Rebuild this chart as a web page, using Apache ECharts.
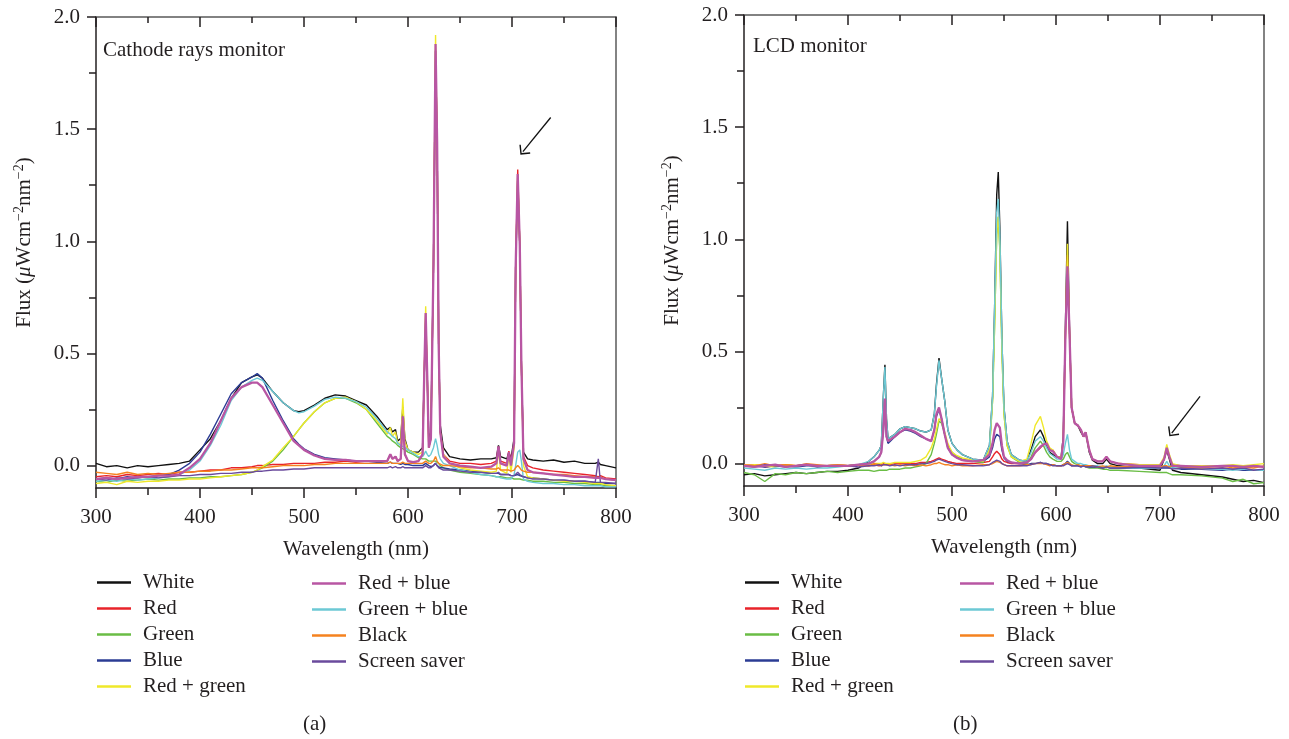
<!DOCTYPE html>
<html><head><meta charset="utf-8">
<script src="https://cdn.jsdelivr.net/npm/echarts@6/dist/echarts.min.js"></script>
<style>html,body{margin:0;padding:0;background:#fff}#c{width:1289px;height:739px}</style>
</head><body><div id="c"></div>
<script>
const seriesNames = ['White','Red','Green','Blue','Red + green','Red + blue','Green + blue','Black','Screen saver'];
const seriesColors = ['#111111','#e8232a','#6abd45','#2b3c94','#efe82a','#b856a3','#6cc9d5','#f5821f','#6a4a9c'];
const panelTitles = ['Cathode rays monitor','LCD monitor'];
const panelCaptions = ['(a)','(b)'];
const xTickLabels = [300,400,500,600,700,800];
const yTickLabels = [0,0.5,1.0,1.5,2.0];
const yMinorTicks = [0.25,0.75,1.25,1.75];

// ---------- Panel (a): cathode rays monitor ----------
const wlA = [300,310,320,330,340,350,360,370,380,390,
  400,410,420,430,440,450,455,460,470,480,
  490,495,500,510,520,530,540,550,560,570,
  580,583,585,588,590,593,595,597,600,605,
  610,614,615.5,617,618.5,620,622,624.5,626.5,628,
  629.5,631,634,640,650,660,670,680,685,687,
  689,695,697,699,702,703.5,705.5,707.5,709,711,
  715,720,730,740,750,760,770,780,783,785,790,800];
const crtWhite = [0.01,-0.005,0.0,-0.01,0.0,-0.005,0.0,0.005,0.01,0.02,
  0.07,0.12,0.2,0.3,0.37,0.395,0.405,0.39,0.33,0.28,
  0.245,0.24,0.245,0.27,0.3,0.315,0.31,0.29,0.27,0.22,
  0.16,0.17,0.15,0.16,0.11,0.12,0.26,0.12,0.07,0.06,
  0.06,0.08,0.38,0.64,0.4,0.12,0.15,0.9,1.85,1.44,
  0.54,0.18,0.08,0.04,0.03,0.025,0.03,0.03,0.035,0.09,
  0.04,0.03,0.06,0.03,0.12,0.88,1.28,0.98,0.46,0.06,
  0.03,0.025,0.02,0.025,0.015,0.02,0.01,0.01,0.015,0.005,0.0,-0.01];
const crtRed = [-0.05,-0.045,-0.05,-0.04,-0.045,-0.04,-0.035,-0.04,-0.03,-0.03,
  -0.025,-0.02,-0.02,-0.01,-0.01,-0.005,0.0,0.0,0.005,0.005,
  0.01,0.01,0.01,0.01,0.015,0.015,0.02,0.015,0.02,0.02,
  0.02,0.05,0.03,0.04,0.02,0.03,0.2,0.05,0.02,0.015,
  0.02,0.05,0.38,0.68,0.4,0.08,0.12,0.9,1.85,1.44,
  0.54,0.15,0.05,0.02,0.01,0.01,0.005,0.01,0.02,0.085,
  0.02,0.01,0.065,0.01,0.1,0.88,1.32,0.98,0.46,0.04,
  0.0,-0.01,-0.02,-0.025,-0.03,-0.035,-0.04,-0.045,-0.05,-0.045,-0.055,-0.06];
const crtGreen = [-0.07,-0.075,-0.065,-0.07,-0.065,-0.06,-0.065,-0.06,-0.06,-0.055,
  -0.055,-0.05,-0.05,-0.045,-0.04,-0.03,-0.02,-0.01,0.02,0.07,
  0.13,0.16,0.19,0.24,0.28,0.3,0.3,0.28,0.25,0.19,
  0.13,0.12,0.11,0.1,0.09,0.08,0.075,0.07,0.06,0.05,
  0.035,0.03,0.03,0.03,0.025,0.02,0.02,0.02,0.02,0.015,
  0.01,0.0,-0.01,-0.02,-0.03,-0.035,-0.04,-0.045,-0.05,-0.05,
  -0.05,-0.055,-0.055,-0.055,-0.06,-0.06,-0.06,-0.06,-0.065,-0.065,
  -0.065,-0.07,-0.07,-0.075,-0.075,-0.08,-0.08,-0.085,-0.085,-0.085,-0.09,-0.09];
const crtBlue = [-0.06,-0.055,-0.06,-0.05,-0.055,-0.05,-0.045,-0.04,-0.02,0.01,
  0.06,0.14,0.23,0.32,0.37,0.395,0.41,0.39,0.29,0.2,
  0.12,0.095,0.075,0.05,0.035,0.03,0.025,0.02,0.02,0.015,
  0.01,0.015,0.01,0.01,0.01,0.005,0.01,0.005,0.005,0.0,
  0.0,0.0,0.005,0.01,0.005,0.0,-0.005,0.0,0.01,0.0,
  -0.005,-0.01,-0.01,-0.015,-0.02,-0.025,-0.03,-0.035,-0.035,-0.035,
  -0.04,-0.04,-0.04,-0.045,-0.045,-0.045,-0.04,-0.045,-0.05,-0.05,
  -0.055,-0.055,-0.06,-0.065,-0.065,-0.07,-0.07,-0.075,-0.075,-0.075,-0.08,-0.08];
const crtRedGreen = [-0.08,-0.075,-0.085,-0.07,-0.075,-0.07,-0.07,-0.065,-0.065,-0.06,
  -0.06,-0.055,-0.05,-0.045,-0.04,-0.03,-0.02,-0.005,0.025,0.08,
  0.13,0.16,0.19,0.24,0.28,0.3,0.305,0.285,0.25,0.2,
  0.14,0.17,0.13,0.15,0.1,0.1,0.3,0.11,0.07,0.06,
  0.05,0.06,0.38,0.71,0.4,0.08,0.12,0.9,1.92,1.44,
  0.54,0.15,0.05,0.01,-0.01,-0.02,-0.025,-0.03,-0.025,0.075,
  -0.02,-0.035,0.05,-0.03,0.08,0.88,1.3,0.98,0.46,0.0,
  -0.05,-0.055,-0.06,-0.065,-0.07,-0.07,-0.075,-0.08,-0.08,-0.08,-0.085,-0.09];
const crtRedBlue = [-0.06,-0.055,-0.06,-0.055,-0.05,-0.05,-0.045,-0.045,-0.04,-0.01,
  0.03,0.1,0.2,0.3,0.35,0.37,0.37,0.35,0.27,0.19,
  0.11,0.09,0.07,0.045,0.03,0.025,0.025,0.02,0.02,0.02,
  0.02,0.05,0.03,0.04,0.02,0.03,0.22,0.05,0.02,0.015,
  0.02,0.05,0.38,0.68,0.4,0.08,0.12,0.9,1.88,1.44,
  0.54,0.15,0.04,0.01,0.0,-0.005,-0.01,-0.005,0.01,0.085,
  0.01,0.0,0.06,0.0,0.1,0.88,1.3,0.98,0.46,0.03,
  -0.02,-0.03,-0.035,-0.04,-0.045,-0.05,-0.05,-0.055,-0.055,-0.055,-0.06,-0.065];
const crtGreenBlue = [-0.07,-0.065,-0.07,-0.06,-0.065,-0.06,-0.055,-0.05,-0.04,-0.02,
  0.02,0.09,0.18,0.29,0.35,0.38,0.39,0.38,0.33,0.28,
  0.245,0.235,0.24,0.265,0.295,0.305,0.3,0.285,0.26,0.21,
  0.15,0.14,0.13,0.12,0.1,0.09,0.085,0.08,0.07,0.055,
  0.04,0.04,0.05,0.065,0.05,0.04,0.05,0.08,0.12,0.09,
  0.05,0.03,0.01,0.0,-0.02,-0.03,-0.04,-0.045,-0.05,-0.05,
  -0.055,-0.06,-0.06,-0.06,-0.04,0.0,0.06,0.07,0.02,-0.06,
  -0.07,-0.075,-0.08,-0.08,-0.085,-0.085,-0.09,-0.09,-0.09,-0.09,-0.095,-0.095];
const crtBlack = [-0.03,-0.035,-0.04,-0.03,-0.04,-0.035,-0.04,-0.035,-0.03,-0.03,
  -0.025,-0.025,-0.02,-0.02,-0.015,-0.01,-0.01,-0.01,-0.005,0.0,
  0.0,0.0,0.0,0.005,0.005,0.01,0.01,0.01,0.01,0.01,
  0.01,0.015,0.01,0.01,0.01,0.01,0.015,0.01,0.01,0.01,
  0.01,0.01,0.015,0.02,0.015,0.01,0.01,0.02,0.04,0.02,
  0.01,0.005,0.0,0.0,-0.005,-0.01,-0.01,-0.015,-0.015,-0.01,
  -0.02,-0.02,-0.02,-0.025,-0.02,-0.01,0.0,-0.01,-0.02,-0.025,
  -0.03,-0.03,-0.035,-0.04,-0.04,-0.045,-0.05,-0.05,-0.055,-0.05,-0.06,-0.065];
const crtSaver = [-0.06,-0.065,-0.055,-0.06,-0.055,-0.05,-0.055,-0.05,-0.045,-0.045,
  -0.04,-0.04,-0.035,-0.035,-0.03,-0.03,-0.025,-0.025,-0.02,-0.02,
  -0.015,-0.015,-0.015,-0.01,-0.01,-0.01,-0.01,-0.01,-0.01,-0.01,
  -0.01,-0.005,-0.01,-0.005,-0.01,-0.01,-0.005,-0.01,-0.01,-0.01,
  -0.01,-0.01,-0.005,0.0,-0.005,-0.01,-0.01,0.0,0.01,0.0,
  -0.01,-0.015,-0.02,-0.02,-0.025,-0.03,-0.03,-0.035,-0.035,-0.03,
  -0.04,-0.04,-0.04,-0.045,-0.045,-0.04,-0.03,-0.04,-0.045,-0.05,
  -0.055,-0.06,-0.06,-0.065,-0.065,-0.07,-0.07,-0.075,0.03,-0.075,-0.075,-0.08];

// ---------- Panel (b): LCD monitor ----------
const wlB = [300,310,320,330,340,350,360,370,380,390,
  400,410,420,425,430,432,434,435.5,437,438.5,
  440,445,450,455,460,465,470,475,480,483,
  485,487.5,490,493,496,500,505,510,520,530,
  536,539,541,543,544.5,546,548,550,553,557,
  565,572,576,580,585,588,591,594,597,601,
  605,607,609,611,613,615,618,621,624,626.5,
  628.5,630,632,635,640,645,648.5,652,660,680,
  700,704,706.5,709,712,720,740,760,770,780,790,800];
const lcdWhite = [-0.05,-0.045,-0.055,-0.05,-0.045,-0.04,-0.045,-0.04,-0.035,-0.035,
  -0.03,-0.02,0.01,0.03,0.06,0.08,0.3,0.44,0.2,0.11,
  0.11,0.13,0.155,0.165,0.16,0.155,0.145,0.14,0.15,0.22,
  0.35,0.47,0.38,0.28,0.15,0.09,0.06,0.04,0.02,0.015,
  0.08,0.3,0.7,1.2,1.3,1.05,0.55,0.25,0.1,0.04,
  0.015,0.01,0.06,0.12,0.15,0.12,0.08,0.05,0.04,0.03,
  0.03,0.12,0.6,1.08,0.6,0.25,0.18,0.17,0.14,0.12,
  0.14,0.14,0.05,0.015,0.0,0.0,0.02,0.0,-0.01,-0.02,
  -0.03,0.02,0.06,0.02,-0.03,-0.04,-0.05,-0.06,-0.07,-0.08,-0.075,-0.085];
const lcdRed = [-0.01,-0.005,-0.015,-0.01,-0.005,-0.01,-0.005,-0.01,-0.01,-0.005,
  -0.01,-0.005,-0.01,-0.005,-0.01,-0.005,0.0,0.0,-0.005,-0.01,
  -0.005,0.0,0.0,0.0,0.0,0.0,0.005,0.005,0.01,0.015,
  0.02,0.025,0.02,0.015,0.01,0.005,0.0,0.0,0.0,0.005,
  0.01,0.03,0.045,0.055,0.05,0.04,0.02,0.01,0.005,0.0,
  0.0,0.005,0.02,0.05,0.07,0.085,0.09,0.06,0.06,0.03,
  0.02,0.1,0.56,0.93,0.58,0.25,0.18,0.17,0.15,0.12,
  0.14,0.145,0.06,0.02,0.01,0.01,0.03,0.01,0.0,-0.005,
  -0.005,0.02,0.065,0.03,-0.005,-0.01,-0.01,-0.015,-0.01,-0.015,-0.01,-0.015];
const lcdGreen = [-0.04,-0.05,-0.08,-0.045,-0.05,-0.04,-0.045,-0.04,-0.035,-0.04,
  -0.035,-0.03,-0.03,-0.035,-0.03,-0.03,-0.03,-0.03,-0.03,-0.03,
  -0.025,-0.025,-0.025,-0.02,-0.02,-0.015,-0.01,0.0,0.04,0.09,
  0.13,0.19,0.18,0.13,0.08,0.05,0.03,0.02,0.01,0.005,
  0.06,0.28,0.62,1.02,1.1,0.95,0.5,0.22,0.08,0.03,
  0.005,0.0,0.03,0.07,0.1,0.08,0.05,0.03,0.02,0.01,
  0.01,0.02,0.04,0.05,0.03,0.01,0.0,-0.005,-0.01,-0.01,
  -0.015,-0.015,-0.02,-0.02,-0.02,-0.025,-0.025,-0.03,-0.03,-0.035,
  -0.04,-0.04,-0.04,-0.045,-0.05,-0.05,-0.055,-0.065,-0.08,-0.07,-0.09,-0.085];
const lcdBlue = [-0.01,-0.01,-0.015,-0.01,-0.01,-0.015,-0.01,-0.01,-0.01,-0.01,
  -0.01,-0.005,0.0,0.01,0.03,0.05,0.15,0.28,0.12,0.09,
  0.095,0.12,0.14,0.15,0.145,0.135,0.12,0.11,0.1,0.15,
  0.21,0.24,0.2,0.13,0.07,0.04,0.025,0.015,0.01,0.01,
  0.03,0.07,0.11,0.13,0.13,0.12,0.06,0.025,0.01,0.005,
  0.0,-0.005,0.0,0.0,0.005,0.0,0.0,-0.005,-0.005,-0.01,
  -0.01,-0.005,0.0,0.01,0.0,-0.01,-0.01,-0.01,-0.015,-0.01,
  -0.01,-0.015,-0.015,-0.015,-0.015,-0.02,-0.015,-0.02,-0.02,-0.02,
  -0.02,-0.02,-0.02,-0.02,-0.02,-0.025,-0.025,-0.03,-0.025,-0.03,-0.03,-0.03];
const lcdRedGreen = [-0.01,-0.005,-0.01,-0.015,-0.005,-0.01,-0.005,-0.01,-0.01,-0.005,
  -0.01,-0.005,-0.005,0.0,0.0,0.0,0.005,0.005,0.0,0.0,
  0.0,0.005,0.005,0.005,0.005,0.01,0.015,0.03,0.07,0.11,
  0.15,0.2,0.19,0.14,0.09,0.05,0.035,0.025,0.015,0.01,
  0.06,0.28,0.62,1.03,1.1,0.96,0.5,0.22,0.08,0.03,
  0.01,0.02,0.09,0.17,0.21,0.16,0.1,0.07,0.06,0.03,
  0.03,0.1,0.56,0.98,0.58,0.25,0.18,0.17,0.15,0.12,
  0.14,0.145,0.06,0.02,0.01,0.01,0.03,0.01,0.0,-0.005,
  -0.005,0.03,0.085,0.04,0.0,-0.01,-0.01,-0.01,-0.005,-0.01,-0.005,0.0];
const lcdRedBlue = [-0.01,-0.015,-0.01,-0.005,-0.015,-0.01,-0.005,-0.01,-0.01,-0.01,
  -0.01,-0.005,0.0,0.01,0.03,0.05,0.15,0.29,0.12,0.1,
  0.1,0.12,0.14,0.155,0.15,0.14,0.125,0.11,0.1,0.15,
  0.22,0.25,0.2,0.13,0.07,0.04,0.025,0.015,0.01,0.015,
  0.04,0.09,0.15,0.18,0.18,0.16,0.08,0.03,0.015,0.005,
  0.0,0.005,0.02,0.05,0.075,0.085,0.09,0.06,0.055,0.03,
  0.02,0.1,0.56,0.88,0.58,0.25,0.18,0.17,0.15,0.12,
  0.14,0.145,0.06,0.02,0.01,0.01,0.03,0.01,0.0,-0.01,
  -0.01,0.02,0.07,0.03,-0.01,-0.01,-0.015,-0.01,-0.01,-0.015,-0.01,-0.015];
const lcdGreenBlue = [-0.02,-0.025,-0.03,-0.02,-0.025,-0.02,-0.025,-0.02,-0.02,-0.015,
  -0.01,-0.005,0.01,0.03,0.06,0.08,0.3,0.43,0.2,0.11,
  0.11,0.13,0.155,0.165,0.16,0.155,0.145,0.14,0.15,0.22,
  0.34,0.46,0.38,0.28,0.15,0.09,0.06,0.04,0.02,0.015,
  0.08,0.3,0.7,1.12,1.18,1.02,0.55,0.25,0.1,0.04,
  0.015,0.01,0.05,0.1,0.12,0.1,0.07,0.045,0.035,0.02,
  0.02,0.04,0.09,0.13,0.06,0.02,0.01,0.0,0.0,-0.005,
  -0.005,-0.005,-0.01,-0.01,-0.01,-0.015,-0.01,-0.015,-0.015,-0.02,
  -0.02,-0.01,0.01,-0.01,-0.02,-0.02,-0.025,-0.025,-0.03,-0.025,-0.03,-0.03];
const lcdBlack = [-0.005,-0.01,0.0,-0.01,-0.005,-0.01,0.0,-0.005,-0.01,-0.005,
  -0.01,-0.005,-0.01,0.0,-0.005,-0.01,-0.005,0.0,-0.005,-0.01,
  -0.005,-0.01,-0.005,-0.01,-0.005,-0.01,-0.005,-0.01,-0.005,0.0,
  0.0,0.005,0.0,-0.005,-0.005,-0.01,-0.005,-0.01,-0.01,-0.005,
  -0.005,0.0,0.005,0.01,0.01,0.005,0.0,-0.005,-0.01,-0.01,
  -0.01,-0.005,-0.005,0.0,0.0,0.0,-0.005,-0.01,-0.005,-0.01,
  -0.01,-0.005,0.0,0.005,0.0,-0.005,-0.01,-0.005,-0.01,-0.01,
  -0.01,-0.015,-0.01,-0.01,-0.015,-0.01,-0.015,-0.01,-0.015,-0.01,
  -0.015,-0.01,-0.01,-0.015,-0.01,-0.015,-0.02,-0.01,-0.02,-0.015,-0.02,-0.01];
const lcdSaver = [-0.01,-0.015,-0.005,-0.01,-0.015,-0.01,-0.005,-0.015,-0.01,-0.01,
  -0.01,-0.015,-0.01,-0.01,-0.005,-0.01,-0.005,0.0,-0.005,-0.01,
  -0.01,-0.005,-0.01,-0.005,-0.005,-0.005,0.0,0.0,0.005,0.01,
  0.015,0.02,0.015,0.01,0.005,0.0,-0.005,-0.005,-0.01,-0.01,
  -0.005,0.005,0.01,0.015,0.015,0.01,0.0,-0.005,-0.01,-0.01,
  -0.01,-0.01,-0.005,0.0,0.005,0.0,0.0,-0.005,-0.01,-0.01,
  -0.01,-0.01,-0.005,0.0,-0.005,-0.01,-0.01,-0.01,-0.015,-0.01,
  -0.015,-0.01,-0.015,-0.01,-0.015,-0.02,-0.015,-0.02,-0.02,-0.015,
  -0.02,-0.015,-0.015,-0.02,-0.025,-0.02,-0.025,-0.02,-0.025,-0.02,-0.03,-0.025];

// arrows: [tail wavelength, tail flux, head wavelength, head flux]
const arrowA = [737.2, 1.552, 710.5, 1.40];
const arrowB = [738.5, 0.30, 711.3, 0.136];

const panelData = [
  {wl: wlA, vals: [crtWhite,crtRed,crtGreen,crtBlue,crtRedGreen,crtRedBlue,crtGreenBlue,crtBlack,crtSaver], arrow: arrowA},
  {wl: wlB, vals: [lcdWhite,lcdRed,lcdGreen,lcdBlue,lcdRedGreen,lcdRedBlue,lcdGreenBlue,lcdBlack,lcdSaver], arrow: arrowB}
];

const F = "'Liberation Serif','DejaVu Serif',serif";
const TC = '#231f20';
const GRAY = '#5a5a5a';
const grids = [
  {left: 96, top: 17, width: 520, height: 471},
  {left: 744, top: 15, width: 520, height: 471}
];

const xAxes = [], yAxes = [], series = [];
panelData.forEach((p, gi) => {
  xAxes.push({
    type: 'value', gridIndex: gi, min: 300, max: 800, interval: 100, position: 'bottom',
    axisLine: {show: true, onZero: false, lineStyle: {color: TC, width: 1.5}},
    axisTick: {show: true, inside: false, length: 10, lineStyle: {color: TC, width: 1.5}},
    minorTick: {show: true, splitNumber: 2, length: 7, lineStyle: {color: TC, width: 1.5}},
    axisLabel: {fontFamily: F, fontSize: 21, color: TC, margin: 19, customValues: xTickLabels},
    splitLine: {show: false},
    name: 'Wavelength (nm)', nameLocation: 'middle', nameGap: 51,
    nameTextStyle: {fontFamily: F, fontSize: 21, color: TC}
  });
  xAxes.push({
    type: 'value', gridIndex: gi, min: 300, max: 800, interval: 100, position: 'top',
    axisLine: {show: true, onZero: false, lineStyle: {color: GRAY, width: 1.5}},
    axisTick: {show: true, inside: true, length: 10, lineStyle: {color: TC, width: 1.5}},
    minorTick: {show: true, splitNumber: 2, length: 6, lineStyle: {color: TC, width: 1.5}},
    axisLabel: {show: false}, splitLine: {show: false}
  });
  yAxes.push({
    type: 'value', gridIndex: gi, min: -0.1, max: 2.0, position: 'left',
    axisLine: {show: true, onZero: false, lineStyle: {color: TC, width: 1.5}},
    axisTick: {show: true, inside: false, length: 9, customValues: yTickLabels, lineStyle: {color: TC, width: 1.5}},
    axisLabel: {fontFamily: F, fontSize: 21, color: TC, margin: 16, customValues: yTickLabels,
      formatter: v => Number(v).toFixed(1)},
    splitLine: {show: false},
    name: 'Flux ({it|μ}Wcm{sup|−2}nm{sup|−2})', nameLocation: 'middle', nameGap: 60,
    nameTextStyle: {fontFamily: F, fontSize: 21, color: TC, lineHeight: 24, padding: [0, 0, 0, 20],
      rich: {
        it: {fontFamily: F, fontSize: 21, fontStyle: 'italic', color: TC, lineHeight: 24},
        sup: {fontFamily: F, fontSize: 14, color: TC, verticalAlign: 'top', lineHeight: 14}
      }}
  });
  yAxes.push({
    type: 'value', gridIndex: gi, min: -0.1, max: 2.0, position: 'left', offset: 0,
    axisLine: {show: false},
    axisTick: {show: true, inside: false, length: 7, customValues: yMinorTicks, lineStyle: {color: TC, width: 1.5}},
    axisLabel: {show: false}, splitLine: {show: false}
  });
  yAxes.push({
    type: 'value', gridIndex: gi, min: -0.1, max: 2.0, position: 'right',
    axisLine: {show: true, onZero: false, lineStyle: {color: GRAY, width: 1.5}},
    axisTick: {show: false}, axisLabel: {show: false}, splitLine: {show: false}
  });
  seriesNames.forEach((name, si) => {
    const onTop = (si === 5);
    const s = {
      type: 'line', name: name, xAxisIndex: gi * 2, yAxisIndex: gi * 3,
      data: p.wl.map((w, k) => [w, p.vals[si][k]]),
      showSymbol: false, symbol: 'none', silent: true, animation: false,
      z: onTop ? 3 : 2,
      lineStyle: {width: onTop ? 2.3 : 1.4, color: seriesColors[si]},
      itemStyle: {color: seriesColors[si]}
    };
    if (si === 0) {
      s.markLine = {
        silent: true, animation: false,
        symbol: ['none', 'path://M7,0 L14,7 L13,8 L7,2 L1,8 L0,7 Z'], symbolSize: [14, 8],
        lineStyle: {color: '#111', width: 1.3, type: 'solid'},
        label: {show: false},
        data: [[{coord: [p.arrow[0], p.arrow[1]]}, {coord: [p.arrow[2], p.arrow[3]]}]]
      };
    }
    series.push(s);
  });
});

const legendBase = {
  orient: 'vertical', itemWidth: 34, itemHeight: 2.5, itemGap: 5, icon: 'rect', padding: 0,
  selectedMode: false,
  textStyle: {fontFamily: F, fontSize: 21, color: TC, lineHeight: 21, padding: [0, 0, 0, 7]}
};
const legends = [
  Object.assign({}, legendBase, {left: 97, top: 572, data: seriesNames.slice(0, 5)}),
  Object.assign({}, legendBase, {left: 312, top: 573, data: seriesNames.slice(5)}),
  Object.assign({}, legendBase, {left: 745, top: 572, data: seriesNames.slice(0, 5)}),
  Object.assign({}, legendBase, {left: 960, top: 573, data: seriesNames.slice(5)})
];

const chart = echarts.init(document.getElementById('c'), null, {renderer: 'canvas'});
chart.setOption({
  backgroundColor: '#ffffff',
  animation: false,
  grid: grids, xAxis: xAxes, yAxis: yAxes, series: series, legend: legends,
  graphic: [
    {type: 'text', left: 103, top: 40, style: {text: panelTitles[0], font: "21px 'Liberation Serif'", fill: TC}},
    {type: 'text', left: 753, top: 36, style: {text: panelTitles[1], font: "21px 'Liberation Serif'", fill: TC}},
    {type: 'text', left: 303, top: 714, style: {text: panelCaptions[0], font: "21px 'Liberation Serif'", fill: TC}},
    {type: 'text', left: 953, top: 714, style: {text: panelCaptions[1], font: "21px 'Liberation Serif'", fill: TC}}
  ]
});
</script></body></html>
